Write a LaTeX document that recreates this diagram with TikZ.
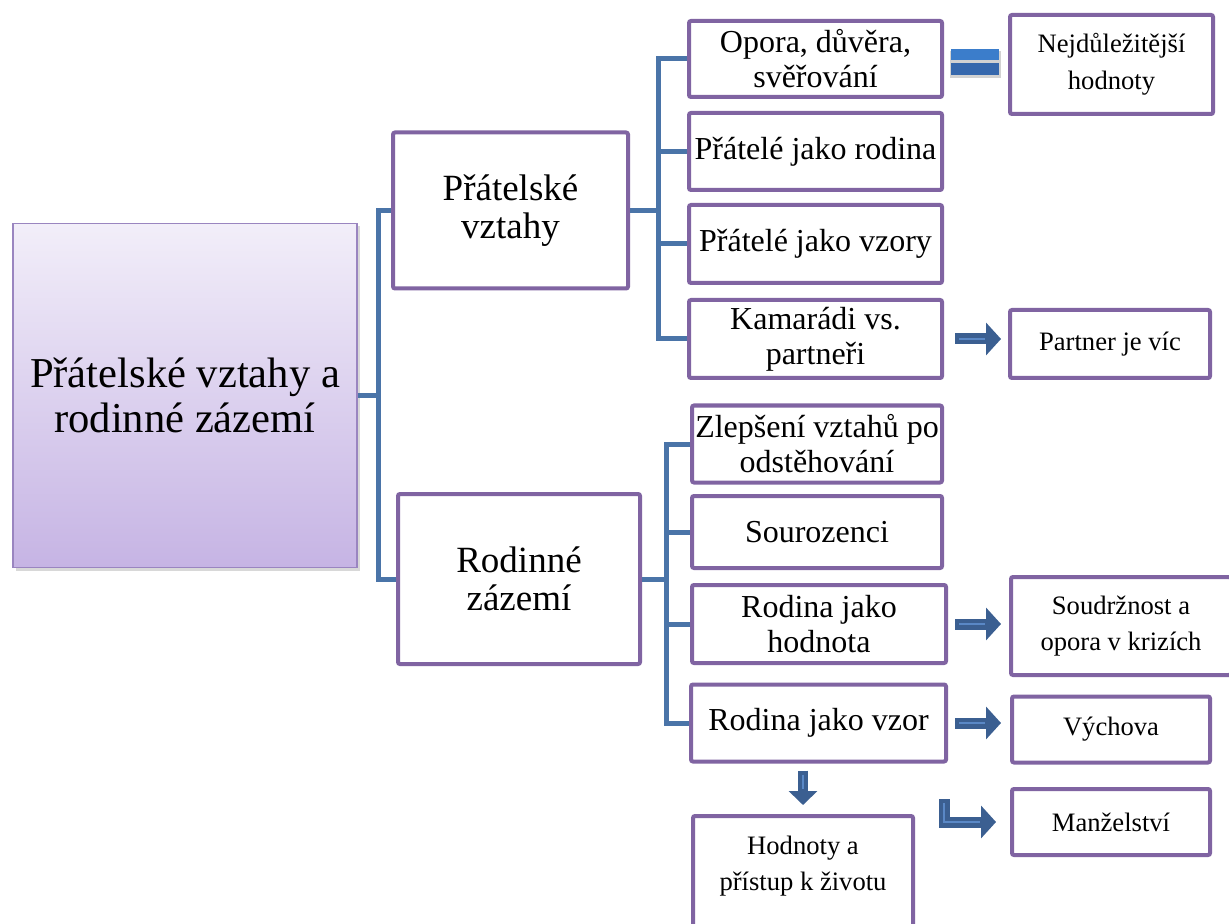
\documentclass[tikz,border=0pt]{standalone}
\usepackage{fontspec}
\setmainfont{Liberation Serif}
\usetikzlibrary{arrows.meta,shadows}
\definecolor{boxpurple}{HTML}{8064A2}
\definecolor{busblue}{HTML}{4A74A8}
\definecolor{arrowblue}{HTML}{3B5F91}
\definecolor{stripeblue}{HTML}{5A88C6}
\definecolor{eqtop}{HTML}{3B7DCB}
\definecolor{eqbottom}{HTML}{3668AD}
\definecolor{roottop}{HTML}{F2EEF9}
\definecolor{rootbottom}{HTML}{C6B4E4}
\definecolor{rootborder}{HTML}{9A85C0}
\begin{document}
\begin{tikzpicture}[x=0.5pt,y=-0.5pt,
  box/.style={draw=boxpurple,line width=2pt,fill=white,rounded corners=1pt,align=center,inner sep=0pt},
  lvlone/.style={box,font=\fontsize{18.5}{19}\selectfont},
  lvltwo/.style={box,font=\fontsize{16}{17.5}\selectfont},
  lvlthree/.style={box,font=\fontsize{13.3}{18.3}\selectfont},
  bus/.style={draw=busblue,line width=2.5pt},
  blockarrow/.style={draw=arrowblue,line width=5.5pt,-{Triangle[length=7.5pt,width=16pt]},
    postaction={draw=stripeblue,line width=0.6pt,-,shorten >=8pt,shorten <=2pt}}]
\path[use as bounding box] (0,0) rectangle (1229,924);
\clip (0,0) rectangle (1229,924);
\fill[white] (0,0) rectangle (1229,924);

% root
\node[draw=rootborder,line width=0.8pt,top color=roottop,bottom color=rootbottom,
  drop shadow={opacity=0.3,shadow xshift=1.5pt,shadow yshift=-1.5pt},
  minimum width=172pt,minimum height=172pt,align=center,
  font=\fontsize{21.3}{22.5}\selectfont] (root) at (185,395.5) {Přátelské vztahy a\\rodinné zázemí};

% first level
\node[lvlone,minimum width=117.5pt,minimum height=78pt] (fr) at (510.5,210.5) {Přátelské\\vztahy};
\node[lvlone,minimum width=121pt,minimum height=85pt] (fam) at (519,579) {Rodinné\\zázemí};

% second level
\node[lvltwo,minimum width=126.5pt,minimum height=38pt] (op) at (815.5,59) {Opora, důvěra,\\svěřování};
\node[lvltwo,minimum width=126.5pt,minimum height=38.5pt] (rod) at (815.5,151.5) {Přátelé jako rodina};
\node[lvltwo,minimum width=126.5pt,minimum height=39pt] (vzo) at (815.5,244) {Přátelé jako vzory};
\node[lvltwo,minimum width=126.5pt,minimum height=39pt] (kam) at (815.5,339) {Kamarádi vs.\\partneři};

\node[lvltwo,minimum width=125pt,minimum height=38.5pt] (zle) at (817,444) {Zlepšení vztahů po\\odstěhování};
\node[lvltwo,minimum width=125pt,minimum height=36pt] (sou) at (817,532) {Sourozenci};
\node[lvltwo,minimum width=127pt,minimum height=39pt] (hod) at (819,624) {Rodina jako\\hodnota};
\node[lvltwo,minimum width=127.5pt,minimum height=38.5pt] (vzr) at (818.5,723) {Rodina jako vzor};

% third level
\node[lvlthree,minimum width=101.5pt,minimum height=49.5pt] (nej) at (1111.5,64.5) {Nejdůležitější\\hodnoty};
\node[lvlthree,minimum width=100pt,minimum height=34pt] (par) at (1110,344) {Partner je víc};
\node[lvlthree,minimum width=110pt,minimum height=49pt] (sdr) at (1121,626) {Soudržnost a\\opora v krizích};
\node[lvlthree,minimum width=99pt,minimum height=33pt] (vyc) at (1111,729.5) {Výchova};
\node[lvlthree,minimum width=99pt,minimum height=33pt] (man) at (1111,822) {Manželství};
\node[lvlthree,minimum width=110pt,minimum height=80pt,anchor=north] (hdn) at (803,814) {};
\node[font=\fontsize{13.3}{18.3}\selectfont,align=center] (hdntxt) at (803,866) {Hodnoty a\\přístup k životu};

% tree lines
\coordinate (j0) at (378,395.5);
\draw[bus] (root.east) -- (j0) |- (fr.west);
\draw[bus] (j0) |- (fam.west);
\coordinate (j1) at (658,210.5);
\draw[bus] (fr.east) -- (j1);
\foreach \n in {op,rod,vzo,kam} \draw[bus] (j1) |- (\n.west);
\coordinate (j2) at (666,579);
\draw[bus] (fam.east) -- (j2);
\foreach \n in {zle,sou,hod,vzr} \draw[bus] (j2) |- (\n.west);

% equals sign
\fill[gray!35] ([shift={(6,-8)}]op.east) rectangle ([shift={(57,19)}]op.east);
\fill[eqtop] ([shift={(7,-10)}]op.east) rectangle ([shift={(55,1.5)}]op.east);
\fill[eqbottom] ([shift={(7,4)}]op.east) rectangle ([shift={(55,16)}]op.east);

% block arrows
\draw[blockarrow] ([xshift=5.5pt]kam.east) -- ([xshift=-3.5pt]kam.east -| par.west);
\draw[blockarrow] ([xshift=3.5pt]hod.east) -- ([xshift=-4pt]hod.east -| sdr.west);
\draw[blockarrow] ([xshift=3.5pt]vzr.east) -- ([xshift=-4.5pt]vzr.east -| vyc.west);
\draw[blockarrow,line width=5pt,-{Triangle[length=7pt,width=14pt]}] ([yshift=-3.5pt]vzr.south -| hdn.north) -- ([yshift=4.5pt]hdn.north);
\coordinate (b1) at (944,799);
\draw[blockarrow,line join=miter] (b1) |- ([xshift=-7pt]man.west);
\end{tikzpicture}
\end{document}
